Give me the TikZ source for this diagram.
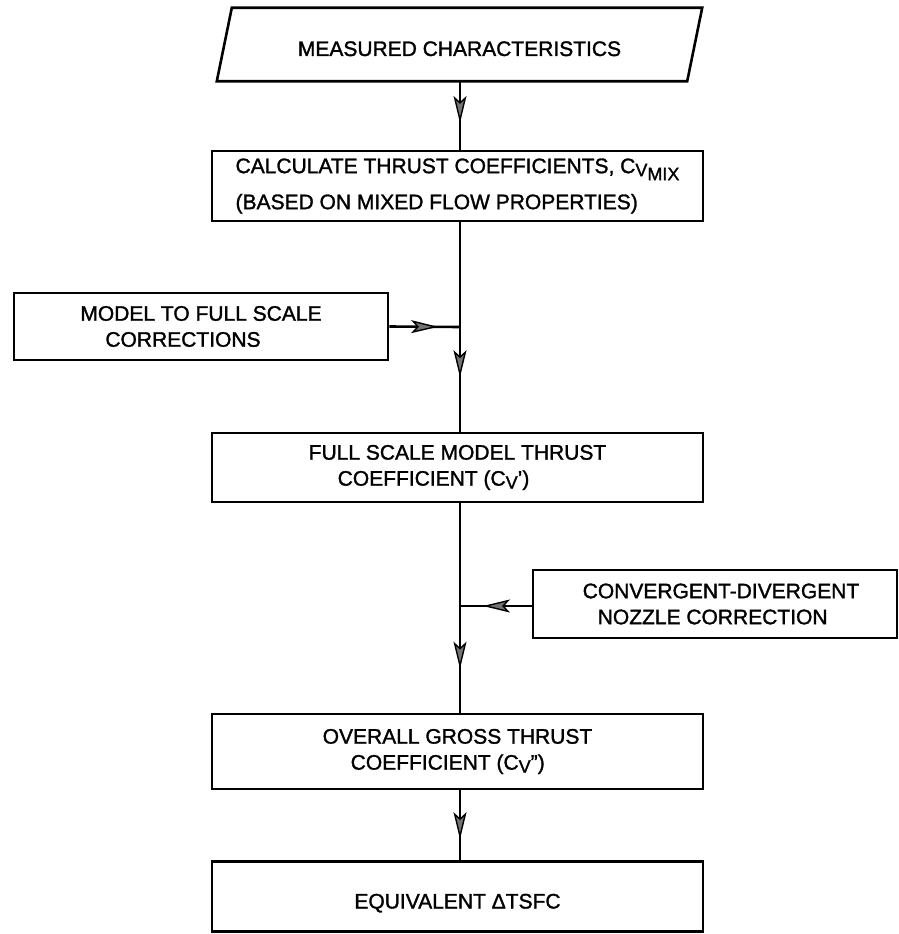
\documentclass[tikz,border=0pt]{standalone}
\usepackage{fontspec}
\setmainfont{Liberation Sans}[FakeBold=1.4]
\usetikzlibrary{arrows.meta,decorations.markings}
\newcommand{\subV}{\raisebox{-3pt}{\fontsize{18}{18}\selectfont V}}
\newcommand{\subMIX}{\raisebox{-7pt}{\fontsize{18}{18}\selectfont MIX}}
\tikzset{
  box/.style={draw, line width=2.6pt, minimum width=491pt, minimum height=70pt,
    inner sep=0pt, align=left, font=\fontsize{21}{26}\selectfont},
  plain/.style={line width=2.6pt},
  headat/.style={postaction=decorate, decoration={markings,
    mark=at position #1 with {\arrow{Stealth[length=27pt,width=13pt,inset=6pt,line width=1.4pt,fill=black!55]}}}}
}
\begin{document}
\begin{tikzpicture}[x=1pt,y=1pt]
\useasboundingbox (0,0) rectangle (899,-934);
% input parallelogram
\node[minimum width=485pt, minimum height=73pt, inner sep=0pt, text height=23pt, text depth=0pt,
  font=\fontsize{21}{26}\selectfont] (para) at (459.5,-44.5) {MEASURED CHARACTERISTICS};
\draw[plain] ([xshift=15pt]para.north west) -- (para.north east) -- ([xshift=-15pt]para.south east) -- (para.south west) -- cycle;
% boxes
\node[box, minimum height=70pt] (calc) at (457.5,-186) {CALCULATE THRUST COEFFICIENTS, C\subV\subMIX\\[10pt](BASED ON MIXED FLOW PROPERTIES)};
\node[box, minimum width=374pt, minimum height=67pt] (model) at (201,-326.5) {MODEL TO FULL SCALE\\\hspace*{25pt}CORRECTIONS};
\node[box, minimum height=69pt] (full) at (457.5,-467.5) {FULL SCALE MODEL THRUST\\\hspace*{29pt}COEFFICIENT (C\subV')};
\node[box, minimum width=364pt, minimum height=68pt] (conv) at (715,-604) {\hspace*{12pt}CONVERGENT-DIVERGENT\\\hspace*{27pt}NOZZLE CORRECTION};
\node[box, minimum height=75pt] (gross) at (457.5,-751.5) {OVERALL GROSS THRUST\\\hspace*{28pt}COEFFICIENT (C\subV'')};
\node[box, minimum height=70pt, text height=24pt, text depth=0pt] (tsfc) at (457.5,-896.5) {EQUIVALENT ΔTSFC};
% junctions on the main flow line
\coordinate (j1) at (460,-327);
\coordinate (j2) at (460,-606);
% connectors
\draw[plain, headat=0.61] (para.south -| j1) -- (calc.north -| j1);
\draw[plain, headat=0.74] (calc.south -| j1) -- (full.north -| j1);
\draw[plain, headat=0.69] (model.east) -- (j1);
\draw[plain, headat=0.68] (conv.west |- j2) -- (j2);
\draw[plain, headat=0.79] (full.south -| j1) -- (gross.north -| j1);
\draw[plain, headat=0.70] (gross.south -| j1) -- (tsfc.north -| j1);
\end{tikzpicture}
\end{document}
